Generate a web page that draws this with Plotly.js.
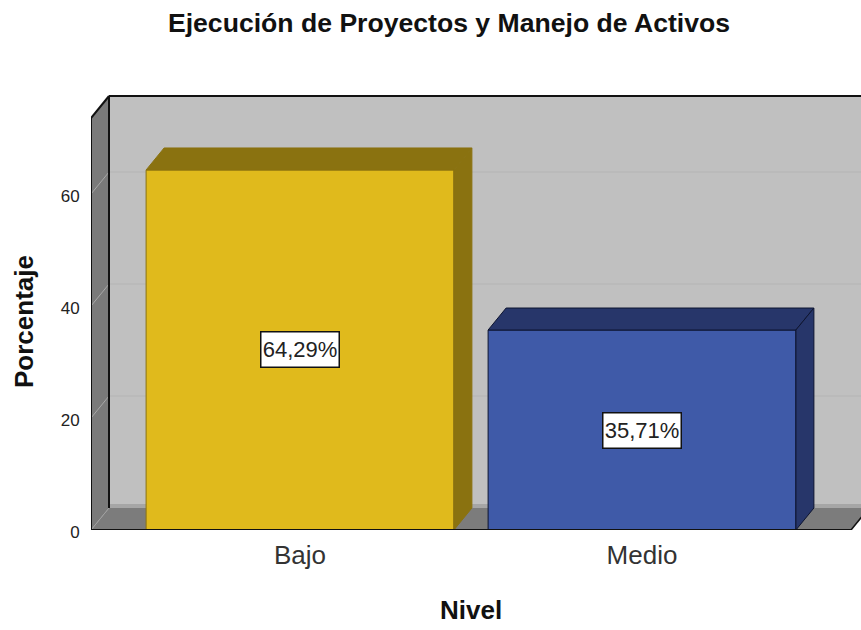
<!DOCTYPE html>
<html><head><meta charset="utf-8">
<script src="https://cdn.plot.ly/plotly-3.0.1.min.js"></script>
<style>html,body{margin:0;padding:0;background:#fff;overflow:hidden}</style>
</head><body><div id="chart" style="width:861px;height:630px"></div>
<script>
const categories = ['Bajo', 'Medio'];
const percentages = [64.29, 35.71];
const percentLabels = ['64,29%', '35,71%'];
const frontColors = ['#e0ba1c', '#3f5aa8'];
const topColors = ['#8a7210', '#27366a'];
const edgeColors = ['#8a7210', '#0d1430'];
const yTicks = [0, 20, 40, 60];

const positions = categories.map((_, i) => i);
const barWidth = 0.9;
const pxX = 342, pxY = 5.6;      // pixels per data unit
const depthX = 18 / pxX, depthY = 22 / pxY;
const xMin = (91 - 300) / pxX, xMax = (861 - 300) / pxX;
const yMax = (530 - 90) / pxY;
const wallTop = (530 - 118) / pxY;
const floorEnd = (851 - 300) / pxX;
const fontFamily = 'Liberation Sans, Arial, sans-serif';

const poly = (pts, fill, line, lw) => ({
  type: 'path', layer: 'below', xref: 'x', yref: 'y',
  path: 'M' + pts.map(p => p[0] + ',' + p[1]).join('L') + 'Z',
  fillcolor: fill, line: {color: line, width: lw}
});
const seg = (a, b, color, w) => ({
  type: 'line', layer: 'below', xref: 'x', yref: 'y',
  x0: a[0], y0: a[1], x1: b[0], y1: b[1], line: {color, width: w}
});

const shapes = [];
const bx = xMin + depthX, bw = xMax + 1;
// back wall
shapes.push(poly([[bx, depthY], [bw, depthY], [bw, wallTop + depthY], [bx, wallTop + depthY]], '#c0c0c0', '#c0c0c0', 0));
// shaded strip at the foot of the wall
shapes.push(poly([[bx, depthY], [bw, depthY], [bw, depthY + 0.7], [bx, depthY + 0.7]], '#a6a6a6', '#a6a6a6', 0));
// side wall
shapes.push(poly([[xMin, 0], [bx, depthY], [bx, wallTop + depthY], [xMin, wallTop]], '#7a7a7a', '#7a7a7a', 0));
// floor
shapes.push(poly([[xMin, 0], [floorEnd, 0], [floorEnd + depthX, depthY], [bx, depthY]], '#7c7c7c', '#7c7c7c', 0));
// grid lines
yTicks.forEach(v => {
  if (v === 0) { shapes.push(seg([xMin, 0], [bx, depthY], '#a0a0a0', 1)); return; }
  shapes.push(seg([xMin, v], [bx, v + depthY], '#a8a8a8', 1));
  shapes.push(seg([bx, v + depthY], [bw, v + depthY], '#b4b4b4', 1));
});
// outlines
shapes.push(seg([bx, depthY], [bx, wallTop + depthY], '#111', 2));
shapes.push(seg([bx, wallTop + depthY], [bw, wallTop + depthY], '#111', 2));
shapes.push(seg([xMin, 0], [xMin, wallTop], '#111', 2));
shapes.push(seg([xMin, wallTop], [bx, wallTop + depthY], '#111', 2));
shapes.push(seg([floorEnd, 0], [floorEnd + depthX, depthY], '#111', 1.5));

const traces = [{
  type: 'bar', x: positions, y: percentages, width: barWidth,
  marker: {color: frontColors, line: {color: edgeColors, width: 1}},
  hoverinfo: 'skip', showlegend: false
}];
// top and side faces of each bar
positions.forEach((p, i) => {
  const l = p - barWidth / 2, r = p + barWidth / 2, h = percentages[i];
  traces.push({
    type: 'scatter', mode: 'lines', fill: 'toself', fillcolor: topColors[i],
    x: [l, r, r + depthX, l + depthX, l], y: [h, h, h + depthY, h + depthY, h],
    line: {color: edgeColors[i], width: 1}, hoverinfo: 'skip', showlegend: false
  });
  traces.push({
    type: 'scatter', mode: 'lines', fill: 'toself', fillcolor: topColors[i],
    x: [r, r + depthX, r + depthX, r, r], y: [0, depthY, h + depthY, h, 0],
    line: {color: edgeColors[i], width: 1}, hoverinfo: 'skip', showlegend: false
  });
});
// front edge of the floor, drawn over the bars
traces.push({
  type: 'scatter', mode: 'lines', x: [xMin, floorEnd], y: [0, 0], cliponaxis: false,
  line: {color: '#111', width: 2}, hoverinfo: 'skip', showlegend: false
});

const annotations = positions.map((p, i) => ({
  x: p, y: percentages[i] / 2, xref: 'x', yref: 'y', text: percentLabels[i], showarrow: false,
  width: 77, height: 34, align: 'center', valign: 'middle',
  bgcolor: '#ffffff', bordercolor: '#111', borderwidth: 1.5, borderpad: 0,
  font: {family: fontFamily, size: 22, color: '#222'}
}));
annotations.push({
  xref: 'paper', yref: 'paper', x: (471 - 91) / 770, y: (530 - 610) / 440,
  text: '<b>Nivel</b>', showarrow: false, xanchor: 'center', yanchor: 'middle',
  font: {family: fontFamily, size: 26, color: '#111'}
});
annotations.push({
  xref: 'paper', yref: 'paper', x: (24 - 91) / 770, y: (530 - 322) / 440,
  text: '<b>Porcentaje</b>', showarrow: false, textangle: -90, xanchor: 'center', yanchor: 'middle',
  font: {family: fontFamily, size: 26, color: '#111'}
});

const layout = {
  width: 861, height: 630, paper_bgcolor: '#fff', plot_bgcolor: '#fff',
  margin: {l: 91, r: 0, t: 90, b: 100, pad: 0},
  title: {text: '<b>Ejecución de Proyectos y Manejo de Activos</b>', x: 449 / 861, xanchor: 'center', y: 1 - 23 / 630, yanchor: 'middle',
    font: {family: fontFamily, size: 26.6, color: '#111'}},
  xaxis: {range: [xMin, xMax], tickmode: 'array', tickvals: positions, ticktext: categories,
    showgrid: false, zeroline: false, showline: false, ticks: 'outside', ticklen: 2, tickcolor: 'rgba(0,0,0,0)',
    tickfont: {family: fontFamily, size: 26, color: '#333'}},
  yaxis: {range: [0, yMax], tickmode: 'array', tickvals: yTicks, ticktext: yTicks.map(String),
    showgrid: false, zeroline: false, showline: false, ticks: 'outside', ticklen: 7, tickcolor: 'rgba(0,0,0,0)',
    ticklabelshift: 2,
    tickfont: {family: fontFamily, size: 17, color: '#222'}},
  shapes, annotations, showlegend: false
};
Plotly.newPlot('chart', traces, layout, {displayModeBar: false, staticPlot: true});
</script></body></html>
